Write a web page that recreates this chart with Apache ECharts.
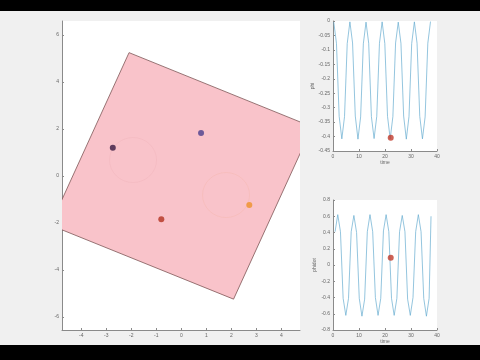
<!DOCTYPE html>
<html><head><meta charset="utf-8">
<script src="https://cdn.jsdelivr.net/npm/echarts@6/dist/echarts.min.js"></script>
<style>html,body{margin:0;padding:0;background:#000}#c{width:480px;height:360px}</style>
</head><body><div id="c"></div>
<script>
// ---- data ----
const squareX = [-2.09, 5.24, 2.09, -5.24];
const squareY = [5.25, 2.09, -5.24, -2.09];
const bodyPointsX = [-2.74, 0.79, -0.80, 2.72];
const bodyPointsY = [1.20, 1.83, -1.84, -1.23];
const traceCentersX = [-1.93, 1.79];
const traceCentersY = [0.68, -0.81];
const mainXTicks = [-4, -3, -2, -1, 0, 1, 2, 3, 4];
const mainYTicks = [-6, -4, -2, 0, 2, 4, 6];

const time = [0.30, 1.33, 2.37, 3.40, 4.43, 5.47, 6.50, 7.53, 8.57, 9.60, 10.63, 11.67, 12.70, 13.73, 14.77, 15.80, 16.83, 17.87, 18.90, 19.93, 20.97, 22.00, 23.03, 24.07, 25.10, 26.13, 27.17, 28.20, 29.23, 30.27, 31.30, 32.33, 33.37, 34.40, 35.43, 36.47, 37.50];
const phi = [-0.004, -0.077, -0.330, -0.408, -0.331, -0.078, -0.003, -0.076, -0.329, -0.409, -0.332, -0.079, -0.004, -0.077, -0.331, -0.407, -0.330, -0.077, -0.003, -0.078, -0.330, -0.408, -0.331, -0.076, -0.004, -0.077, -0.329, -0.409, -0.331, -0.078, -0.003, -0.077, -0.330, -0.408, -0.332, -0.077, -0.002];
const timeRate = [0.80, 1.83, 2.87, 3.90, 4.93, 5.97, 7.00, 8.03, 9.07, 10.10, 11.13, 12.17, 13.20, 14.23, 15.27, 16.30, 17.33, 18.37, 19.40, 20.43, 21.47, 22.50, 23.53, 24.57, 25.60, 26.63, 27.67, 28.70, 29.73, 30.77, 31.80, 32.83, 33.87, 34.90, 35.93, 36.97, 37.70];
const phidot = [0.41, 0.62, 0.41, -0.41, -0.62, -0.41, 0.41, 0.61, 0.40, -0.41, -0.63, -0.42, 0.41, 0.62, 0.41, -0.40, -0.62, -0.41, 0.42, 0.62, 0.41, -0.41, -0.62, -0.41, 0.41, 0.61, 0.41, -0.42, -0.62, -0.40, 0.41, 0.62, 0.41, -0.41, -0.63, -0.41, 0.60];
const markerTime = 22.2;
const markerPhi = -0.404;
const markerPhidot = 0.09;
const timeTicks = [0, 10, 20, 30, 40];
const phiTicks = [0, -0.05, -0.1, -0.15, -0.2, -0.25, -0.3, -0.35, -0.4, -0.45];
const phidotTicks = [0.8, 0.6, 0.4, 0.2, 0, -0.2, -0.4, -0.6, -0.8];

// ---- style ----
const pointColors = ['#3a1a42', '#4a3f8c', '#b3321f', '#ee9128'];
const traceColors = ['rgba(225,150,160,0.25)', 'rgba(235,160,120,0.25)'];
const axisCol = '#8a8a8a';
const labCol = '#666';
const fnt = 'Liberation Sans, Arial, sans-serif';
const lineCol = '#66acd0';

function axis(grid, min, max, ticks, extra) {
  return Object.assign({
    gridIndex: grid, type: 'value', min: min, max: max,
    axisLine: {show: true, onZero: false, lineStyle: {color: axisCol, width: 1}},
    axisTick: {show: true, inside: true, length: 2, customValues: ticks, lineStyle: {color: axisCol}},
    axisLabel: {show: true, customValues: ticks, fontSize: 5, color: labCol, fontFamily: fnt, margin: 3},
    splitLine: {show: false}
  }, extra || {});
}

const chart = echarts.init(document.getElementById('c'));
chart.setOption({
  animation: false,
  backgroundColor: '#f0f0f0',
  graphic: [
    {type: 'rect', shape: {x: 0, y: 0, width: 480, height: 11}, style: {fill: '#000'}, z: 100},
    {type: 'rect', shape: {x: 0, y: 345, width: 480, height: 15}, style: {fill: '#000'}, z: 100}
  ],
  grid: [
    {left: 62, top: 21, width: 238, height: 309, show: true, backgroundColor: '#fff', borderWidth: 0},
    {left: 333, top: 21, width: 104, height: 130, show: true, backgroundColor: '#fff', borderWidth: 0},
    {left: 333, top: 200, width: 104, height: 130, show: true, backgroundColor: '#fff', borderWidth: 0}
  ],
  xAxis: [
    axis(0, -4.772, 4.748, mainXTicks),
    axis(1, 0, 40, timeTicks, {name: 'time', nameLocation: 'middle', nameGap: 9, nameTextStyle: {fontSize: 5, color: labCol, fontFamily: fnt}}),
    axis(2, 0, 40, timeTicks, {name: 'time', nameLocation: 'middle', nameGap: 9, nameTextStyle: {fontSize: 5, color: labCol, fontFamily: fnt}})
  ],
  yAxis: [
    axis(0, -6.553, 6.596, mainYTicks),
    axis(1, -0.45, 0, phiTicks, {name: 'phi', nameLocation: 'middle', nameGap: 14, nameRotate: 90, nameTextStyle: {fontSize: 5, color: labCol, fontFamily: fnt}}),
    axis(2, -0.8, 0.8, phidotTicks, {name: 'phidot', nameLocation: 'middle', nameGap: 12, nameRotate: 90, nameTextStyle: {fontSize: 5, color: labCol, fontFamily: fnt}})
  ],
  series: [
    {
      type: 'custom', xAxisIndex: 0, yAxisIndex: 0, clip: true, z: 1,
      data: [[0, 0]],
      renderItem: function (params, api) {
        const pts = squareX.map((x, i) => api.coord([x, squareY[i]]));
        return {type: 'polygon', shape: {points: pts}, style: {fill: '#f9c3ca', stroke: '#7d5656', lineWidth: 0.8}};
      }
    },
    {
      type: 'scatter', xAxisIndex: 0, yAxisIndex: 0, z: 2, silent: true,
      symbol: 'circle', symbolSize: [47, 45],
      data: traceCentersX.map((x, i) => ({value: [x, traceCentersY[i]], itemStyle: {color: 'rgba(0,0,0,0)', borderColor: traceColors[i], borderWidth: 0.8}}))
    },
    {
      type: 'scatter', xAxisIndex: 0, yAxisIndex: 0, z: 3, symbolSize: 6,
      data: bodyPointsX.map((x, i) => ({value: [x, bodyPointsY[i]], itemStyle: {color: pointColors[i]}}))
    },
    {
      type: 'line', xAxisIndex: 1, yAxisIndex: 1, showSymbol: false, z: 2,
      lineStyle: {color: lineCol, width: 0.7},
      data: time.map((t, i) => [t, phi[i]])
    },
    {
      type: 'scatter', xAxisIndex: 1, yAxisIndex: 1, z: 3, symbolSize: 6,
      itemStyle: {color: '#c0392b'}, data: [[markerTime, markerPhi]]
    },
    {
      type: 'line', xAxisIndex: 2, yAxisIndex: 2, showSymbol: false, z: 2,
      lineStyle: {color: lineCol, width: 0.7},
      data: timeRate.map((t, i) => [t, phidot[i]])
    },
    {
      type: 'scatter', xAxisIndex: 2, yAxisIndex: 2, z: 3, symbolSize: 6,
      itemStyle: {color: '#c0392b'}, data: [[markerTime, markerPhidot]]
    }
  ]
});
</script>
</body></html>
